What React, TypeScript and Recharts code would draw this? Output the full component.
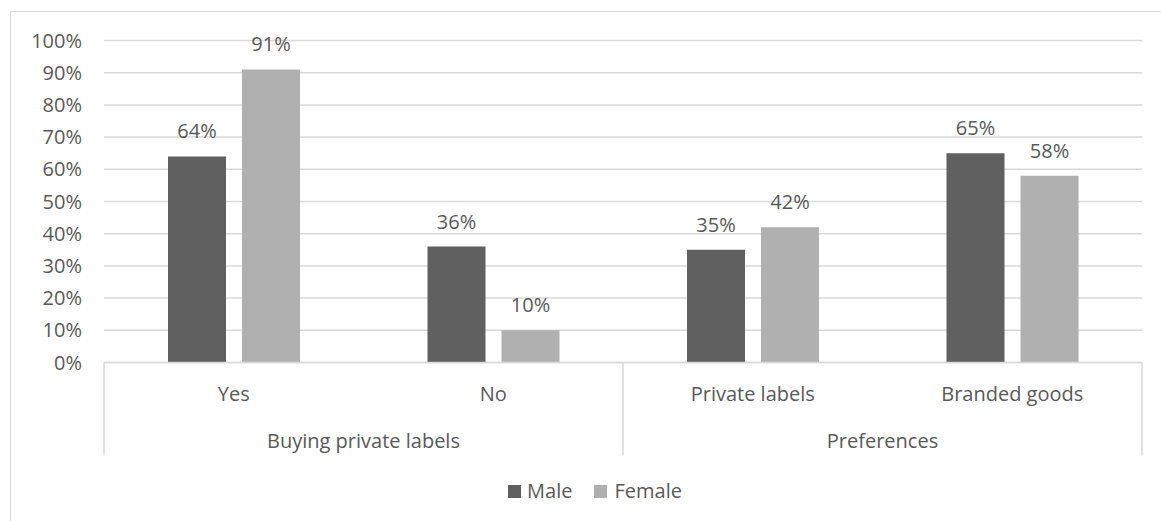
import { BarChart, Bar, XAxis, YAxis, CartesianGrid, LabelList } from 'recharts'

const categories = ['Yes', 'No', 'Private labels', 'Branded goods']
const groupOfCategory = [0, 0, 1, 1]
const groups = ['Buying private labels', 'Preferences']
const male = [64, 36, 35, 65]
const female = [91, 10, 42, 58]
const yTicks = [0, 10, 20, 30, 40, 50, 60, 70, 80, 90, 100]

const data = categories.map((name, i) => ({ name, male: male[i], female: female[i] }))

const FONT = '"Open Sans", "Liberation Sans", sans-serif'
const TEXT = '#595959'
const GRID = '#d9d9d9'
const MALE_COLOR = '#606060'
const FEMALE_COLOR = '#b0b0b0'

// two-level category axis: item label + group label with separators
const CategoryTick = (props: any) => {
  const { x, y, payload, index } = props
  const half = payload?.offset || 129.75
  const g = groupOfCategory[index]
  const first = groupOfCategory.indexOf(g)
  const count = groupOfCategory.filter(v => v === g).length
  const isFirst = first === index
  const isLast = index === categories.length - 1
  return (
    <g>
      <text x={x} y={y + 31} textAnchor="middle" dominantBaseline="central"
        fill={TEXT} fontSize={20} fontFamily={FONT}>{payload.value}</text>
      {isFirst && (
        <>
          <line x1={x - half} x2={x - half} y1={y} y2={y + 93} stroke={GRID} strokeWidth={1.5} />
          <text x={x - half + count * half} y={y + 78} textAnchor="middle" dominantBaseline="central"
            fill={TEXT} fontSize={20} fontFamily={FONT}>{groups[g]}</text>
        </>
      )}
      {isLast && (
        <line x1={x + half} x2={x + half} y1={y} y2={y + 93} stroke={GRID} strokeWidth={1.5} />
      )}
    </g>
  )
}

export default function App() {
  return (
    <div style={{ position: 'absolute', left: 0, top: 0, width: 1161, height: 521, overflow: 'hidden', background: '#fff' }}>
      {/* chart frame, cropped on the right and bottom like the reference */}
      <div style={{ position: 'absolute', left: 10, top: 11, width: 1200, height: 600, border: `1.5px solid ${GRID}` }} />
      <div style={{ position: 'absolute', left: 0, top: 0 }}>
        <BarChart width={1161} height={521} data={data}
          margin={{ top: 40.5, right: 19, left: 0, bottom: 58.5 }}
          barSize={58} barGap={16}>
          <CartesianGrid horizontal vertical={false} stroke={GRID} strokeWidth={1.5} />
          <XAxis dataKey="name" height={100} tickLine={false} tickSize={0} tickMargin={0}
            axisLine={{ stroke: GRID, strokeWidth: 1.5 }} tick={<CategoryTick />} interval={0} />
          <YAxis width={104} domain={[0, 100]} ticks={yTicks} tickFormatter={(v: number) => `${v}%`}
            axisLine={false} tickLine={false} tickSize={0} tickMargin={22}
            tick={{ fill: TEXT, fontSize: 20, fontFamily: FONT }} />
          <Bar dataKey="male" fill={MALE_COLOR} isAnimationActive={false}>
            <LabelList dataKey="male" position="top" offset={18} formatter={(v: any) => `${v}%`}
              style={{ fill: TEXT, fontSize: 20, fontFamily: FONT }} />
          </Bar>
          <Bar dataKey="female" fill={FEMALE_COLOR} isAnimationActive={false}>
            <LabelList dataKey="female" position="top" offset={18} formatter={(v: any) => `${v}%`}
              style={{ fill: TEXT, fontSize: 20, fontFamily: FONT }} />
          </Bar>
        </BarChart>
      </div>
      {/* legend centred on the (cropped) chart frame */}
      <div style={{
        position: 'absolute', left: 0, top: 476, width: 1190, display: 'flex', justifyContent: 'center',
        alignItems: 'center', fontFamily: FONT, fontSize: 20, color: TEXT, lineHeight: '30px',
      }}>
        <span style={{ width: 13, height: 13, background: MALE_COLOR, marginRight: 6 }} />
        <span style={{ marginRight: 22 }}>Male</span>
        <span style={{ width: 13, height: 13, background: FEMALE_COLOR, marginRight: 7 }} />
        <span>Female</span>
      </div>
    </div>
  )
}
